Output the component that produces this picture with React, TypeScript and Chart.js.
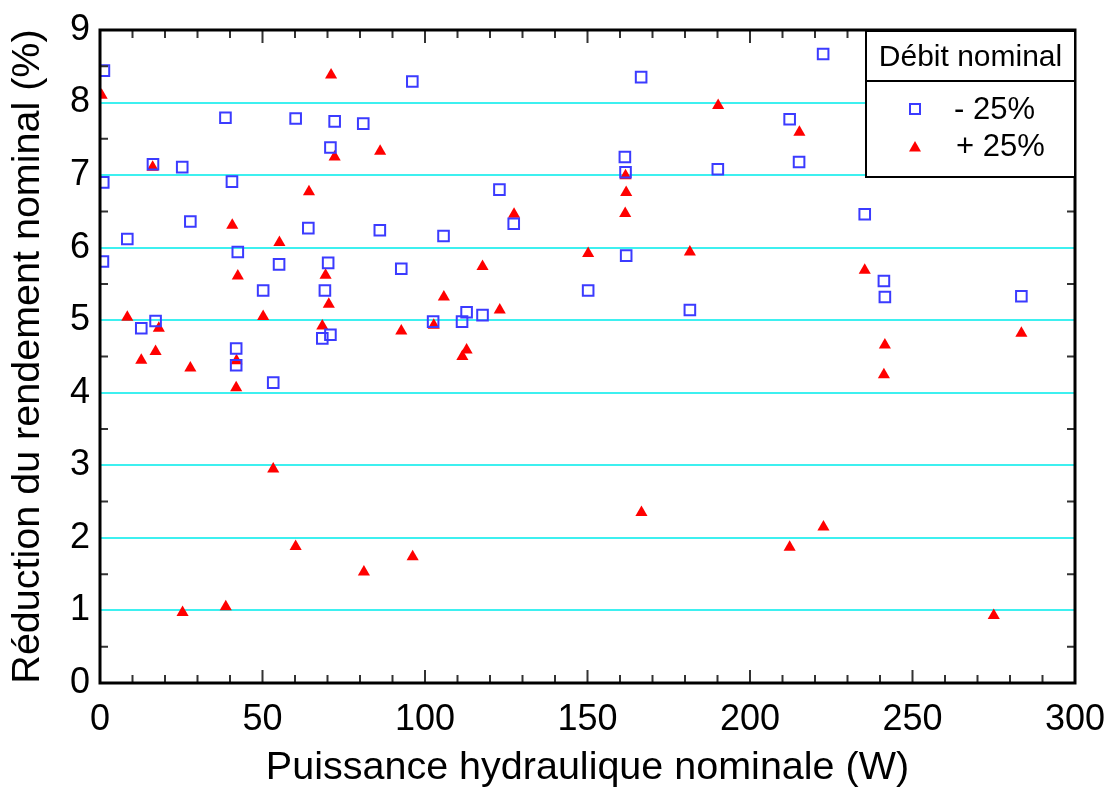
import React, { useEffect, useRef } from 'react';
import { Chart, registerables } from 'chart.js';

Chart.register(...registerables);

// ----- data -----
const minusX = [1.2, 38.6, 60.2, 72.2, 81.0, 96.1, 70.9, 16.3, 25.3, 1.0, 40.6, 27.8, 64.1, 8.4, 42.4, 0.9, 55.1, 70.2, 50.2, 69.2, 17.1, 12.7, 70.9, 68.4, 41.9, 41.9, 53.3, 122.9, 86.1, 105.7, 127.3, 92.7, 150.2, 112.8, 117.7, 111.4, 102.5, 222.5, 166.5, 212.2, 161.5, 215.1, 161.7, 190.1, 161.9, 181.5, 235.3, 241.2, 241.5, 283.5];
const minusY = [8.44, 7.79, 7.78, 7.74, 7.71, 8.29, 7.38, 7.15, 7.11, 6.9, 6.91, 6.36, 6.27, 6.12, 5.94, 5.81, 5.77, 5.79, 5.41, 5.41, 4.99, 4.89, 4.8, 4.75, 4.61, 4.38, 4.14, 6.8, 6.24, 6.16, 6.33, 5.71, 5.41, 5.11, 5.07, 4.98, 4.98, 8.67, 8.35, 7.77, 7.25, 7.18, 7.04, 7.08, 5.89, 5.14, 6.46, 5.54, 5.32, 5.33];

const plusX = [0.5, 71.1, 72.2, 16.2, 64.3, 40.7, 55.2, 42.4, 69.4, 70.4, 8.4, 50.2, 18.1, 68.4, 12.7, 17.1, 27.8, 42.0, 41.9, 53.3, 60.2, 25.4, 38.7, 86.2, 127.4, 150.2, 117.7, 105.8, 123.0, 92.7, 102.7, 112.8, 111.5, 96.2, 81.2, 190.2, 215.2, 161.7, 161.9, 161.6, 181.5, 166.6, 222.6, 212.2, 235.3, 241.5, 283.5, 241.2, 275.0];
const plusY = [8.1, 8.38, 7.25, 7.11, 6.77, 6.31, 6.07, 5.61, 5.62, 5.22, 5.04, 5.05, 4.89, 4.92, 4.45, 4.57, 4.34, 4.44, 4.07, 2.95, 1.88, 0.97, 1.05, 7.33, 6.46, 5.92, 5.74, 5.32, 5.14, 4.85, 4.93, 4.59, 4.5, 1.74, 1.53, 7.96, 7.59, 6.99, 6.76, 6.47, 5.94, 2.35, 2.15, 1.87, 5.69, 4.66, 4.82, 4.25, 0.93];

const seriesLabels = ['- 25%', '+ 25%'];
const legendTitle = 'Débit nominal';
const xTitle = 'Puissance hydraulique nominale (W)';
const yTitle = 'Réduction du rendement nominal (%)';
const xRange = [0, 300];
const yRange = [0, 9];
const xMajorStep = 50;
const xMinorStep = 10;
const yMajorStep = 1;
const yMinorStep = 0.5;

const FONT = '"Liberation Sans", Arial, Helvetica, sans-serif';
const BLUE = '#3b3bff';
const RED = '#ff0000';
const CYAN = '#3ef0f0';

const framePlugin = {
  id: 'frameTicks',
  afterDatasetsDraw(chart: any) {
    const { ctx, chartArea: a, scales } = chart;
    const x = scales.x;
    const y = scales.y;
    ctx.save();
    ctx.strokeStyle = '#333';
    ctx.lineWidth = 2;
    ctx.beginPath();
    for (let v = xRange[0]; v <= xRange[1] + 1e-9; v += xMinorStep) {
      const px = x.getPixelForValue(v);
      const len = Math.abs(v % xMajorStep) < 1e-6 ? 13 : 8;
      ctx.moveTo(px, a.bottom);
      ctx.lineTo(px, a.bottom - len);
      ctx.moveTo(px, a.top);
      ctx.lineTo(px, a.top + len);
    }
    for (let v = yRange[0] + yMinorStep; v < yRange[1]; v += yMajorStep) {
      const py = y.getPixelForValue(v);
      ctx.moveTo(a.left, py);
      ctx.lineTo(a.left + 8, py);
      ctx.moveTo(a.right, py);
      ctx.lineTo(a.right - 8, py);
    }
    ctx.stroke();
    ctx.strokeStyle = '#000';
    ctx.lineWidth = 3;
    ctx.strokeRect(a.left, a.top, a.right - a.left, a.bottom - a.top);
    ctx.restore();
  },
};

const legendPlugin = {
  id: 'boxLegend',
  afterDraw(chart: any) {
    const { ctx, chartArea: a } = chart;
    const R = a.right;
    const L = R - 209;
    const T = a.top + 1;
    const B = T + 146;
    const sep = T + 50;
    ctx.save();
    ctx.fillStyle = '#fff';
    ctx.fillRect(L, T, R - L, B - T);
    ctx.strokeStyle = '#000';
    ctx.lineWidth = 2;
    ctx.strokeRect(L, T, R - L, B - T);
    ctx.beginPath();
    ctx.moveTo(L, sep);
    ctx.lineTo(R, sep);
    ctx.stroke();

    ctx.fillStyle = '#000';
    ctx.textBaseline = 'middle';
    ctx.textAlign = 'center';
    ctx.font = `30px ${FONT}`;
    ctx.fillText(legendTitle, (L + R) / 2, T + 27);

    ctx.textAlign = 'left';
    ctx.font = `31px ${FONT}`;
    const row1 = T + 78;
    const row2 = T + 116;
    const mx = L + 49;
    // square marker
    ctx.strokeStyle = BLUE;
    ctx.lineWidth = 2;
    ctx.strokeRect(mx - 5, row1 - 5, 10, 10);
    // triangle marker
    ctx.fillStyle = RED;
    ctx.beginPath();
    ctx.moveTo(mx, row2 - 6);
    ctx.lineTo(mx + 6, row2 + 4.5);
    ctx.lineTo(mx - 6, row2 + 4.5);
    ctx.closePath();
    ctx.fill();

    ctx.fillStyle = '#000';
    ctx.fillText(seriesLabels[0], L + 88, row1 + 1);
    ctx.fillText(seriesLabels[1], L + 90, row2);
    ctx.restore();
  },
};

export default function App() {
  const ref = useRef<HTMLCanvasElement | null>(null);

  useEffect(() => {
    document.body.style.margin = '0';
    if (!ref.current) return;
    const chart = new Chart(ref.current, {
      type: 'scatter',
      data: {
        datasets: [
          {
            label: seriesLabels[0],
            data: minusX.map((v, i) => ({ x: v, y: minusY[i] })),
            pointStyle: 'rect',
            pointRadius: 7.5,
            pointBorderWidth: 2,
            pointBorderColor: BLUE,
            pointBackgroundColor: 'rgba(0,0,0,0)',
            clip: 0,
          },
          {
            label: seriesLabels[1],
            data: plusX.map((v, i) => ({ x: v, y: plusY[i] })),
            pointStyle: 'triangle',
            pointRadius: 7,
            pointBorderWidth: 0,
            pointBorderColor: RED,
            pointBackgroundColor: RED,
            clip: 0,
          },
        ],
      },
      options: {
        animation: false,
        responsive: false,
        maintainAspectRatio: false,
        layout: { padding: { top: 30, right: 35, left: 0, bottom: 0 } },
        plugins: {
          legend: { display: false },
          tooltip: { enabled: false },
        },
        scales: {
          x: {
            type: 'linear',
            min: xRange[0],
            max: xRange[1],
            afterFit: (s: any) => {
              s.height = 105;
              s.paddingLeft = 0;
              s.paddingRight = 0;
            },
            ticks: {
              stepSize: xMajorStep,
              color: '#000',
              padding: 19,
              font: { family: FONT, size: 36, lineHeight: 1 },
              maxRotation: 0,
              autoSkip: false,
            },
            grid: { display: false, drawTicks: false },
            border: { display: false },
            title: {
              display: true,
              text: xTitle,
              color: '#000',
              font: { family: FONT, size: 39.5, lineHeight: 1 },
              padding: { top: 0, bottom: 0 },
            },
          },
          y: {
            type: 'linear',
            min: yRange[0],
            max: yRange[1],
            afterFit: (s: any) => {
              s.width = 100;
              s.paddingTop = 0;
              s.paddingBottom = 0;
            },
            ticks: {
              stepSize: yMajorStep,
              color: '#000',
              padding: 10,
              font: { family: FONT, size: 36, lineHeight: 1 },
              autoSkip: false,
            },
            grid: { display: true, color: CYAN, lineWidth: 2, drawTicks: false },
            border: { display: false },
            title: {
              display: true,
              text: yTitle,
              color: '#000',
              font: { family: FONT, size: 39.5, lineHeight: 1 },
              padding: { top: 8, bottom: 0 },
            },
          },
        },
      },
      plugins: [framePlugin, legendPlugin],
    });
    return () => chart.destroy();
  }, []);

  return (
    <div style={{ width: 1110, height: 788, background: '#fff' }}>
      <canvas ref={ref} width={1110} height={788} style={{ display: 'block' }} />
    </div>
  );
}
